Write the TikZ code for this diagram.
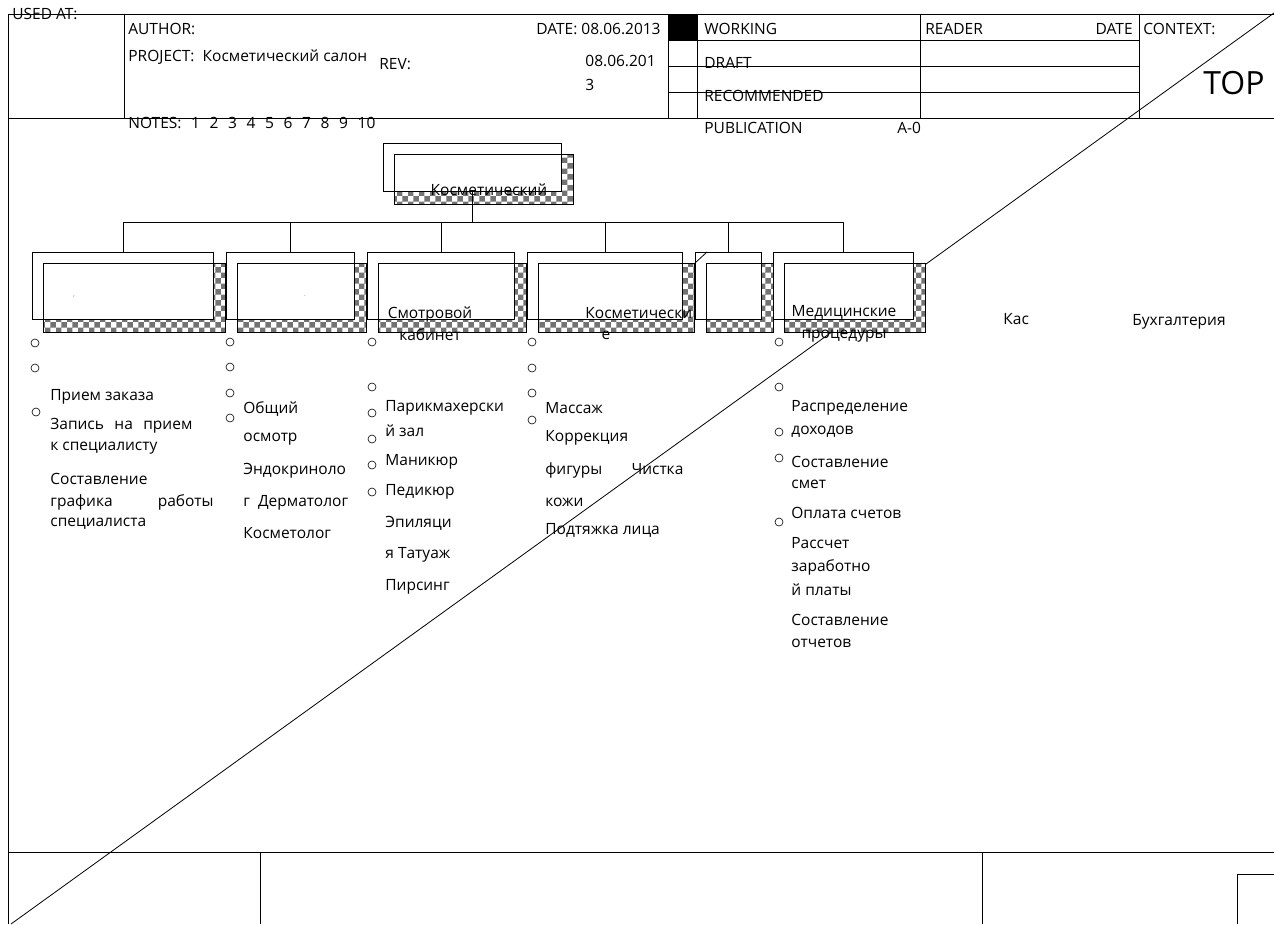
\documentclass[tikz,border=0pt]{standalone}
\usepackage{fontspec}
\setmainfont{Open Sans}
\usetikzlibrary{patterns}

% back box, textured shadow and front box of one activity
\newcommand{\actbox}[5]{%
  \node[backbox, anchor=north west, minimum width={#4-#2}, minimum height={#5-#3}] (#1) at (#2,#3) {};
  \draw[shadebox] (#2+11,#3+11) rectangle (#4+12,#5+13);
  \draw[frontbox] (#2+11,#3+11) rectangle (#4,#5);
}

\begin{document}
\begin{tikzpicture}[x=1pt, y=-1pt, line width=0.8pt, font=\fontsize{15.5}{22}\selectfont]
		\tikzset{
			backbox/.style = {draw, fill=white, inner sep=0pt},
			shadebox/.style = {draw, preaction={fill=white}, pattern=checkerboard, pattern color=black!55},
			frontbox/.style = {draw, fill=white},
			dot/.style = {circle, draw, inner sep=0pt, minimum size=8pt, line width=0.6pt},
			txt/.style = {anchor=west, inner sep=0pt},
			rtxt/.style = {anchor=east, inner sep=0pt}
		}

		\fill[white] (0,0) rectangle (1274,924);
		\useasboundingbox (0,0) rectangle (1274,924);

		% frame
		\draw (8,924) -- (8,14) -- (1274,14);
		\draw (8,118) -- (1274,118);
		\draw (124,14) -- (124,118);
		\fill (668,14) rectangle (697,40);
		\draw (668,14) -- (668,118);
		\draw (697,14) -- (697,118);
		\draw (920,14) -- (920,118);
		\draw (1139,14) -- (1139,118);
		\draw (668,40) -- (1139,40);
		\draw (668,66) -- (1139,66);
		\draw (668,92) -- (1139,92);
		\draw (8,852) -- (1274,852);
		\draw (260,852) -- (260,924);
		\draw (982,852) -- (982,924);
		\draw (1237,924) -- (1237,874) -- (1274,874);

		\coordinate (diag_lo) at (11,924);
		\coordinate (diag_hi) at (1274,13);
		\draw (diag_lo) -- (diag_hi);

		% title block texts
		\node[txt] (usedat) at (12,14) {USED AT:};
		\node[txt] (author) at (128,29) {AUTHOR:};
		\node[rtxt] (date) at (661,29) {DATE: 08.06.2013};
		\node[txt] (project) at (128,57) {PROJECT:\ \ Косметический салон};
		\node[txt] (rev) at (379,64) {REV:};
		\node[txt] (rev_a) at (585,61) {08.06.201};
		\node[txt] (rev_b) at (585,85) {3};
		\node[txt] (notes) at (128,123) {\makebox[247pt][s]{NOTES: 1 2 3 4 5 6 7 8 9 10}};
		\node[txt] (working) at (704,29) {WORKING};
		\node[txt] (draft) at (704,63) {DRAFT};
		\node[txt] (recomm) at (704,96) {RECOMMENDED};
		\node[txt] (public) at (704,128) {PUBLICATION};
		\node[txt] (nodeno) at (897,128) {A-0};
		\node[txt] (reader) at (925,29) {READER};
		\node[rtxt] (rdate) at (1133,29) {DATE};
		\node[txt] (context) at (1143,29) {CONTEXT:};
		\node[font=\fontsize{32}{32}\selectfont] (topl) at (1234,83) {TOP};

		% activity boxes
		\actbox{root}{383}{143}{561}{191}
		\actbox{G_1}{32}{252}{213}{319}
		\actbox{G_2}{226}{252}{354}{319}
		\actbox{G_3}{367}{252}{514}{319}
		\actbox{G_4}{527}{252}{682}{319}
		\actbox{G_5}{695}{252}{761}{319}
		\actbox{G_6}{773}{252}{913}{319}

		\coordinate (bus) at (0,222);
		\draw (root.south) -- (root.south |- bus);
		\draw (G_1.north) |- (G_6.north |- bus) -- (G_6.north);
		\draw (G_2.north) -- (G_2.north |- bus);
		\draw (G_3.north) -- (G_3.north |- bus);
		\draw (G_4.north) -- (G_4.north |- bus);
		\draw (G_5.north) -- (G_5.north |- bus);
		\draw ([yshift=-11pt]G_5.north west) -- ([xshift=12pt]G_5.north west);

		\node (root_t) at (489,190) {Косметический};
		\node[font=\tiny] (G_1t) at (74,298) {'};
		\node[font=\tiny] (G_2t) at (305,296) {.};
		\node[align=center] (G_3t) at (430,324) {Смотровой\\кабинет};
		\node[txt] (G_4t) at (585,313) {Косметически};
		\node (G_4e) at (606,335) {е};
		\node[align=center] (G_6t) at (844,324) {Медицинские\\процедуры};
		\node[txt] (kassa) at (1003,319) {Кас};
		\node[txt] (buh) at (1132,322) {Бухгалтерия};

		% bullets
		\node[dot] (D1_1) at (35,343) {};
		\node[dot] (D1_2) at (35,368) {};
		\node[dot] (D1_3) at (36,412) {};
		\node[dot] (D2_1) at (230,342) {};
		\node[dot] (D2_2) at (230,367) {};
		\node[dot] (D2_3) at (230,393) {};
		\node[dot] (D2_4) at (230,418) {};
		\node[dot] (D3_1) at (372,342) {};
		\node[dot] (D3_2) at (372,387) {};
		\node[dot] (D3_3) at (372,413) {};
		\node[dot] (D3_4) at (372,439) {};
		\node[dot] (D3_5) at (372,465) {};
		\node[dot] (D3_6) at (372,492) {};
		\node[dot] (D4_1) at (532,342) {};
		\node[dot] (D4_2) at (532,368) {};
		\node[dot] (D4_3) at (532,393) {};
		\node[dot] (D4_4) at (532,420) {};
		\node[dot] (D6_1) at (779,342) {};
		\node[dot] (D6_2) at (779,387) {};
		\node[dot] (D6_3) at (779,432) {};
		\node[dot] (D6_4) at (779,458) {};
		\node[dot] (D6_5) at (779,522) {};

		% lists
		\node[txt] (L1_1) at (50,397) {Прием заказа};
		\node[txt] (L1_2) at (50,426) {\makebox[142pt][s]{Запись на прием}};
		\node[txt] (L1_3) at (50,448) {к специалисту};
		\node[txt] (L1_4) at (50,479) {Составление};
		\node[txt] (L1_5) at (50,502) {графика};
		\node[rtxt] (L1_6) at (214,502) {работы};
		\node[txt] (L1_7) at (50,524) {специалиста};

		\node[txt] (L2_1) at (243,409) {Общий};
		\node[txt] (L2_2) at (243,439) {осмотр};
		\node[txt] (L2_3) at (243,471) {Эндокриноло};
		\node[txt] (L2_4) at (243,503) {г\ \ Дерматолог};
		\node[txt] (L2_5) at (243,533) {Косметолог};

		\node[txt] (L3_1) at (385,408) {Парикмахерски};
		\node[txt] (L3_2) at (385,431) {й зал};
		\node[txt] (L3_3) at (385,462) {Маникюр};
		\node[txt] (L3_4) at (385,492) {Педикюр};
		\node[txt] (L3_5) at (385,523) {Эпиляци};
		\node[txt] (L3_6) at (385,555) {я Татуаж};
		\node[txt] (L3_7) at (385,587) {Пирсинг};

		\node[txt] (L4_1) at (545,408) {Массаж};
		\node[txt] (L4_2) at (545,438) {Коррекция};
		\node[txt] (L4_3) at (545,470) {\makebox[138pt][s]{фигуры Чистка}};
		\node[txt] (L4_4) at (545,502) {кожи};
		\node[txt] (L4_5) at (545,530) {Подтяжка лица};

		\node[txt] (L6_1) at (791,408) {Распределение};
		\node[txt] (L6_2) at (791,432) {доходов};
		\node[txt] (L6_3) at (791,462) {Составление};
		\node[txt] (L6_4) at (791,484) {смет};
		\node[txt] (L6_5) at (791,513) {Оплата счетов};
		\node[txt] (L6_6) at (791,543) {Рассчет};
		\node[txt] (L6_7) at (791,567) {заработно};
		\node[txt] (L6_8) at (791,590) {й платы};
		\node[txt] (L6_9) at (791,620) {Составление};
		\node[txt] (L6_10) at (791,643) {отчетов};

\end{tikzpicture}
\end{document}
